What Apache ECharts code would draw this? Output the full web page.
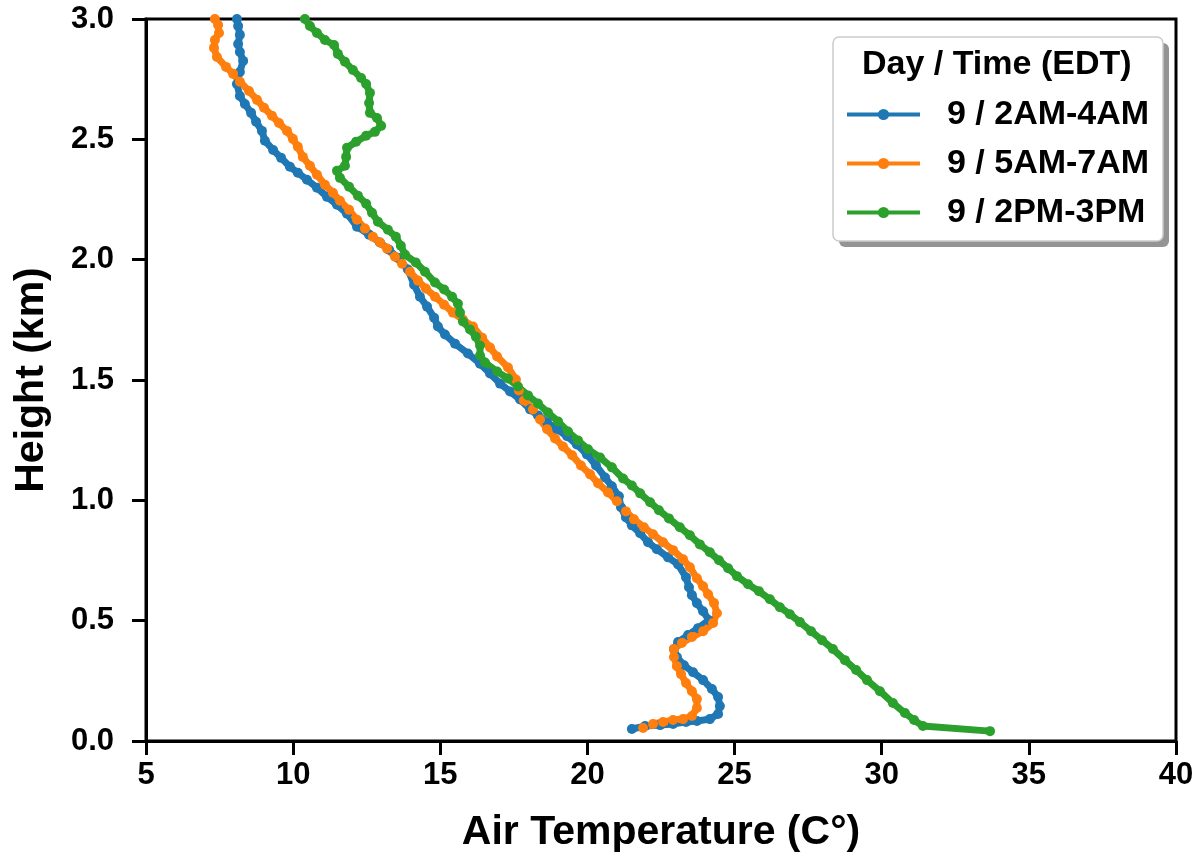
<!DOCTYPE html>
<html>
<head>
<meta charset="utf-8">
<script src="https://cdn.jsdelivr.net/npm/echarts@6/dist/echarts.min.js"></script>
<style>
html,body{margin:0;padding:0;background:#fff;}
#chart{width:1199px;height:858px;}
</style>
</head>
<body>
<div id="chart"></div>
<script>
// Series names
const seriesNames = ['9 / 2AM-4AM', '9 / 5AM-7AM', '9 / 2PM-3PM'];
const legendTitle = 'Day / Time (EDT)';
const xTitle = 'Air Temperature (C°)';
const yTitle = 'Height (km)';

// Temperature (°C) and height (km), bottom to top
const blueT = [21.51,21.96,22.47,22.91,23.35,23.72,24.16,24.44,24.50,24.44,24.23,23.93,23.59,23.28,23.04,22.94,23.08,23.42,23.76,24.13,23.93,23.72,23.55,23.45,23.35,23.08,22.74,22.36,22.06,21.79,21.51,21.31,21.14,21.07,20.83,20.60,20.29,19.98,19.64,19.31,18.97,18.63,18.32,18.05,17.71,17.37,17.03,16.69,16.35,15.94,15.50,15.16,14.92,14.79,14.55,14.31,14.11,13.90,13.56,13.26,12.95,12.58,12.17,11.83,11.49,11.15,10.81,10.47,10.16,9.89,9.59,9.32,9.04,8.94,8.74,8.57,8.36,8.19,8.09,8.19,8.30,8.19,8.13,8.19,8.13,8.09];
const blueH = [0.050,0.062,0.066,0.071,0.079,0.083,0.091,0.112,0.145,0.183,0.216,0.253,0.286,0.315,0.349,0.382,0.411,0.440,0.469,0.502,0.539,0.573,0.606,0.639,0.680,0.734,0.763,0.797,0.826,0.863,0.896,0.929,0.971,1.017,1.058,1.095,1.145,1.191,1.232,1.266,1.295,1.324,1.353,1.378,1.419,1.452,1.485,1.527,1.568,1.610,1.651,1.689,1.722,1.759,1.805,1.846,1.896,1.959,2.008,2.041,2.071,2.104,2.137,2.191,2.228,2.261,2.299,2.332,2.361,2.386,2.423,2.456,2.494,2.535,2.573,2.610,2.647,2.680,2.730,2.780,2.826,2.863,2.896,2.934,2.971,3.000];

const orangeT = [21.89,22.23,22.57,22.91,23.25,23.55,23.72,23.72,23.55,23.35,23.18,23.04,22.94,22.94,23.21,23.55,23.93,24.27,24.40,24.30,24.10,23.93,23.72,23.48,23.25,22.91,22.57,22.23,21.92,21.58,21.31,21.00,20.70,20.36,20.09,19.78,19.48,19.17,18.90,18.63,18.39,18.15,17.84,17.67,17.57,17.30,16.93,16.69,16.42,16.11,15.77,15.43,15.13,14.82,14.51,14.24,13.97,13.70,13.46,13.19,12.95,12.71,12.44,12.17,11.90,11.59,11.35,11.08,10.81,10.57,10.33,10.16,9.99,9.79,9.52,9.28,9.01,8.77,8.50,8.19,7.96,7.72,7.41,7.31,7.34,7.48,7.45,7.34];
const orangeH = [0.054,0.071,0.079,0.087,0.091,0.104,0.137,0.174,0.207,0.241,0.278,0.311,0.349,0.382,0.407,0.432,0.456,0.490,0.531,0.573,0.610,0.643,0.676,0.722,0.755,0.793,0.826,0.859,0.888,0.921,0.954,0.996,1.033,1.071,1.108,1.145,1.187,1.224,1.257,1.295,1.336,1.378,1.415,1.456,1.502,1.552,1.598,1.635,1.676,1.722,1.751,1.780,1.813,1.846,1.880,1.913,1.950,1.983,2.012,2.046,2.071,2.095,2.129,2.166,2.207,2.245,2.278,2.311,2.353,2.390,2.427,2.469,2.502,2.535,2.568,2.598,2.631,2.664,2.701,2.739,2.772,2.801,2.842,2.880,2.913,2.942,2.975,3.000];

const greenT = [33.68,31.40,31.10,30.79,30.38,29.94,29.50,29.13,28.75,28.34,27.97,27.60,27.22,26.88,26.54,26.20,25.83,25.46,25.08,24.78,24.47,24.16,23.82,23.48,23.14,22.77,22.43,22.13,21.79,21.51,21.21,20.83,20.43,20.02,19.68,19.34,19.00,18.66,18.32,17.98,17.64,17.30,16.93,16.52,16.35,16.35,16.21,16.01,15.77,15.67,15.60,15.40,15.13,14.82,14.48,14.17,13.80,13.66,13.49,13.22,12.88,12.68,12.48,12.20,11.90,11.59,11.49,11.76,11.80,11.83,12.14,12.48,12.78,12.99,12.85,12.61,12.58,12.61,12.48,12.31,12.03,11.76,11.52,11.39,11.08,10.81,10.57,10.40];
const greenH = [0.041,0.062,0.087,0.116,0.158,0.207,0.253,0.295,0.336,0.382,0.419,0.456,0.494,0.527,0.556,0.589,0.622,0.651,0.685,0.718,0.751,0.784,0.817,0.855,0.888,0.925,0.959,0.992,1.029,1.062,1.091,1.137,1.178,1.212,1.249,1.286,1.328,1.365,1.402,1.436,1.473,1.506,1.535,1.573,1.602,1.643,1.680,1.710,1.743,1.780,1.817,1.846,1.876,1.905,1.950,1.988,2.021,2.058,2.095,2.124,2.158,2.195,2.232,2.266,2.303,2.340,2.369,2.390,2.427,2.465,2.490,2.515,2.531,2.556,2.589,2.610,2.651,2.693,2.730,2.755,2.788,2.822,2.855,2.892,2.913,2.942,2.971,3.000];

const colors = ['#1f77b4', '#ff7f0e', '#2ca02c'];
const FONT = '"Liberation Sans", Arial, Helvetica, sans-serif';

function pairs(t, h) { return t.map((v, i) => [v, h[i]]); }
const allData = [pairs(blueT, blueH), pairs(orangeT, orangeH), pairs(greenT, greenH)];

const chart = echarts.init(document.getElementById('chart'), null, {renderer: 'canvas'});
const option = {
  animation: false,
  backgroundColor: '#fff',
  grid: {left: 146, right: 23, top: 19, bottom: 116, show: true, borderColor: '#000', borderWidth: 3, backgroundColor: 'transparent'},
  xAxis: {
    type: 'value', min: 5, max: 40, interval: 5,
    name: xTitle, nameLocation: 'middle', nameGap: 71,
    nameTextStyle: {fontFamily: FONT, fontWeight: 'bold', fontSize: 41, color: '#000'},
    axisLine: {show: true, lineStyle: {color: '#000', width: 3}},
    axisTick: {show: true, inside: false, length: 14, lineStyle: {color: '#000', width: 3}},
    axisLabel: {fontFamily: FONT, fontWeight: 'bold', fontSize: 31, color: '#000', margin: 19},
    splitLine: {show: false}
  },
  yAxis: {
    type: 'value', min: 0, max: 3, interval: 0.5,
    name: yTitle, nameLocation: 'middle', nameGap: 94,
    nameTextStyle: {fontFamily: FONT, fontWeight: 'bold', fontSize: 41, color: '#000'},
    axisLine: {show: true, lineStyle: {color: '#000', width: 3}},
    axisTick: {show: true, inside: false, length: 14, lineStyle: {color: '#000', width: 3}},
    axisLabel: {fontFamily: FONT, fontWeight: 'bold', fontSize: 31, color: '#000', margin: 32,
      formatter: v => v.toFixed(1)},
    splitLine: {show: false}
  },
  legend: {
    orient: 'vertical',
    left: 833, top: 37,
    padding: [60, 16, 14, 12],
    itemGap: 14,
    itemWidth: 73, itemHeight: 14,
    z: 4,
    backgroundColor: 'transparent',
    borderWidth: 0,
    lineStyle: {width: 4},
    textStyle: {fontFamily: FONT, fontWeight: 'bold', fontSize: 34, color: '#000', padding: [0, 0, 0, 22], lineHeight: 35},
    data: seriesNames
  },
  graphic: [
    {type: 'rect', z: 3, shape: {x: 839, y: 43, width: 330, height: 204, r: 6}, style: {fill: 'rgba(0,0,0,0.42)'}},
    {type: 'rect', z: 3.1, shape: {x: 833, y: 37, width: 330, height: 204, r: 6}, style: {fill: '#fff', stroke: '#cccccc', lineWidth: 1.5}},
    {type: 'text', z: 5, left: 862, top: 48,
     style: {text: legendTitle, fontFamily: FONT, fontWeight: 'bold', fontSize: 34, fill: '#000'}}
  ],
  series: seriesNames.map((name, i) => ({
    name: name,
    type: 'line',
    data: allData[i],
    color: colors[i],
    symbol: 'circle',
    symbolSize: 10,
    showSymbol: true,
    showAllSymbol: true,
    lineStyle: {width: 7, color: colors[i]},
    itemStyle: {color: colors[i]},
    emphasis: {disabled: true},
    clip: true,
    z: 2
  }))
};
chart.setOption(option);
</script>
</body>
</html>
